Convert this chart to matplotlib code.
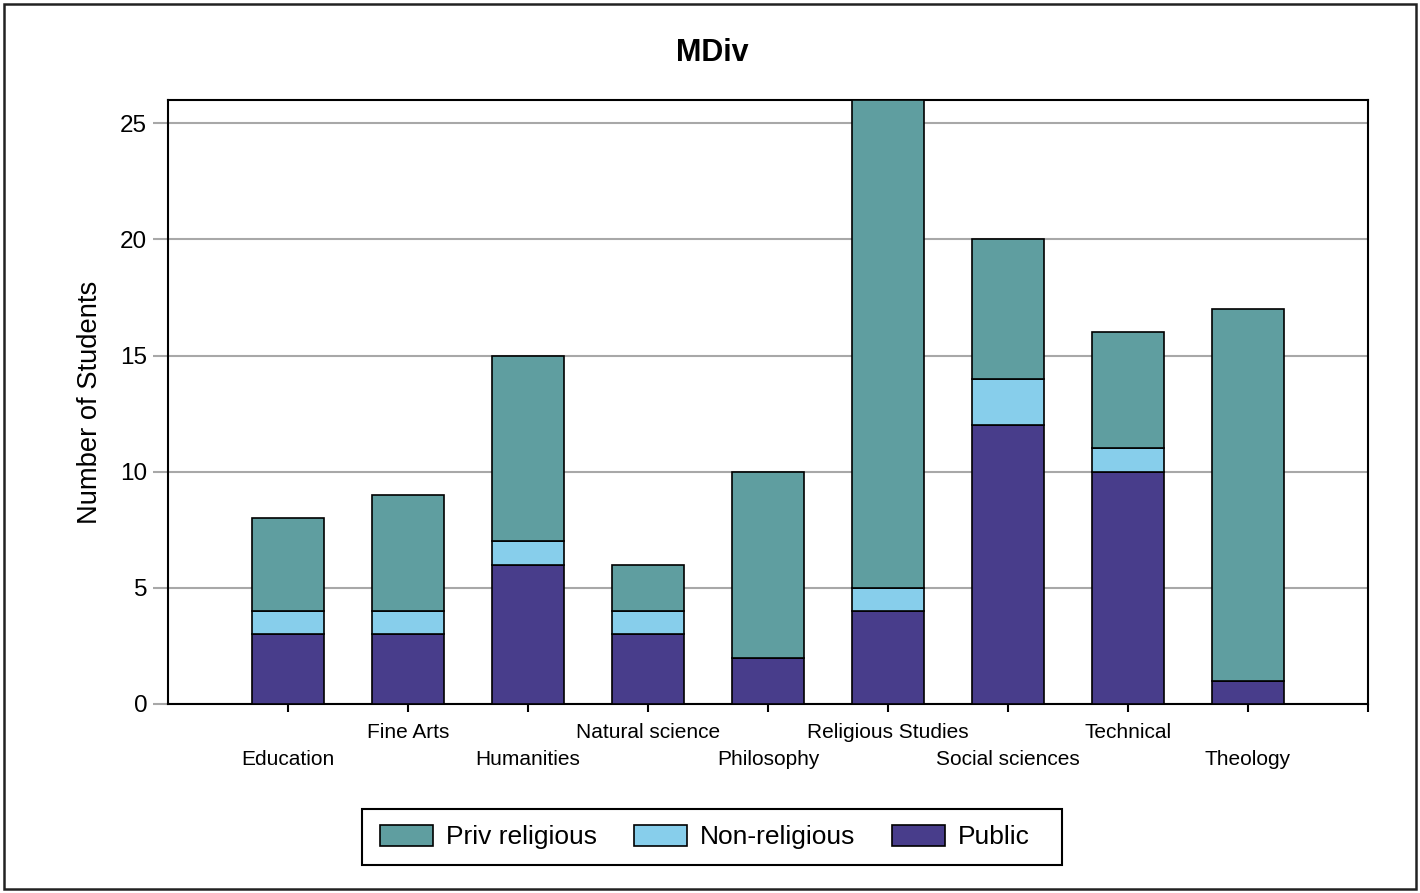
import matplotlib
matplotlib.use("Agg")
import matplotlib.pyplot as plt
from matplotlib.patches import Rectangle
import numpy as np

plt.rcParams['font.family'] = ['Liberation Sans', 'DejaVu Sans']

categories = ["Education", "Fine Arts", "Humanities", "Natural science", "Philosophy",
              "Religious Studies", "Social sciences", "Technical", "Theology"]
public = [3, 3, 6, 3, 2, 4, 12, 10, 1]
non_religious = [1, 1, 1, 1, 0, 1, 2, 1, 0]
priv_religious = [4, 5, 8, 2, 8, 21, 6, 5, 16]
y_ticks = [0, 5, 10, 15, 20, 25]

c_priv = "#5F9EA0"
c_non = "#87CEEB"
c_pub = "#483D8B"

W, H = 1420, 893
fig = plt.figure(figsize=(W / 100, H / 100), dpi=100)
ax = fig.add_axes([168 / W, 1 - 704 / H, 1200 / W, 604 / H])

x = np.arange(len(categories))
pub = np.array(public)
non = np.array(non_religious)
priv = np.array(priv_religious)
bw = 0.6
ekw = dict(edgecolor="black", linewidth=1.2, zorder=3)
b1 = ax.bar(x, pub, bw, color=c_pub, label="Public", **ekw)
b2 = ax.bar(x, non, bw, bottom=pub, color=c_non, label="Non-religious", **ekw)
b3 = ax.bar(x, priv, bw, bottom=pub + non, color=c_priv, label="Priv religious", **ekw)

ax.set_xlim(-1, 9)
ax.set_ylim(0, 26)
ax.set_yticks(y_ticks)
ax.set_yticklabels([str(v) for v in y_ticks], fontsize=17.5)
ax.yaxis.grid(True, color="#A8A8A8", linewidth=1.5, zorder=0)
ax.set_axisbelow(True)
ax.tick_params(axis="y", length=11, width=1.5, color="#A8A8A8", pad=4)

ax.set_xticks(x)
ax.set_xticklabels(categories, fontsize=15)
ax.set_xticks([9], minor=True)
ax.tick_params(axis="x", which="both", length=6, width=1.5, color="black", direction="out")
for i, t in enumerate(ax.xaxis.get_major_ticks()):
    t.set_pad(7.5 if i % 2 == 1 else 27)

for s in ax.spines.values():
    s.set_linewidth(1.5)
    s.set_color("black")

ax.set_ylabel("Number of Students", fontsize=19.7, labelpad=12)

fig.text(712 / W, 1 - 53 / H, "MDiv", fontsize=22, fontweight="bold", ha="center", va="center")

leg = fig.legend(handles=[b3, b2, b1], labels=["Priv religious", "Non-religious", "Public"],
                 loc="center", bbox_to_anchor=(705 / W, 1 - 837 / H), ncol=3,
                 fontsize=19, frameon=False,
                 handlelength=2.0, handleheight=0.85, columnspacing=1.4,
                 handletextpad=0.5, borderpad=0.0)

fig.patches.append(Rectangle((362 / W, 1 - 865 / H), 700 / W, 56 / H, transform=fig.transFigure,
                             fill=False, edgecolor="black", linewidth=1.5))

fig.patches.append(Rectangle((4 / W, 4 / H), 1412 / W, 885 / H, transform=fig.transFigure,
                             fill=False, edgecolor="#222222", linewidth=1.8))

fig.savefig("out.png", dpi=100, facecolor="white")
